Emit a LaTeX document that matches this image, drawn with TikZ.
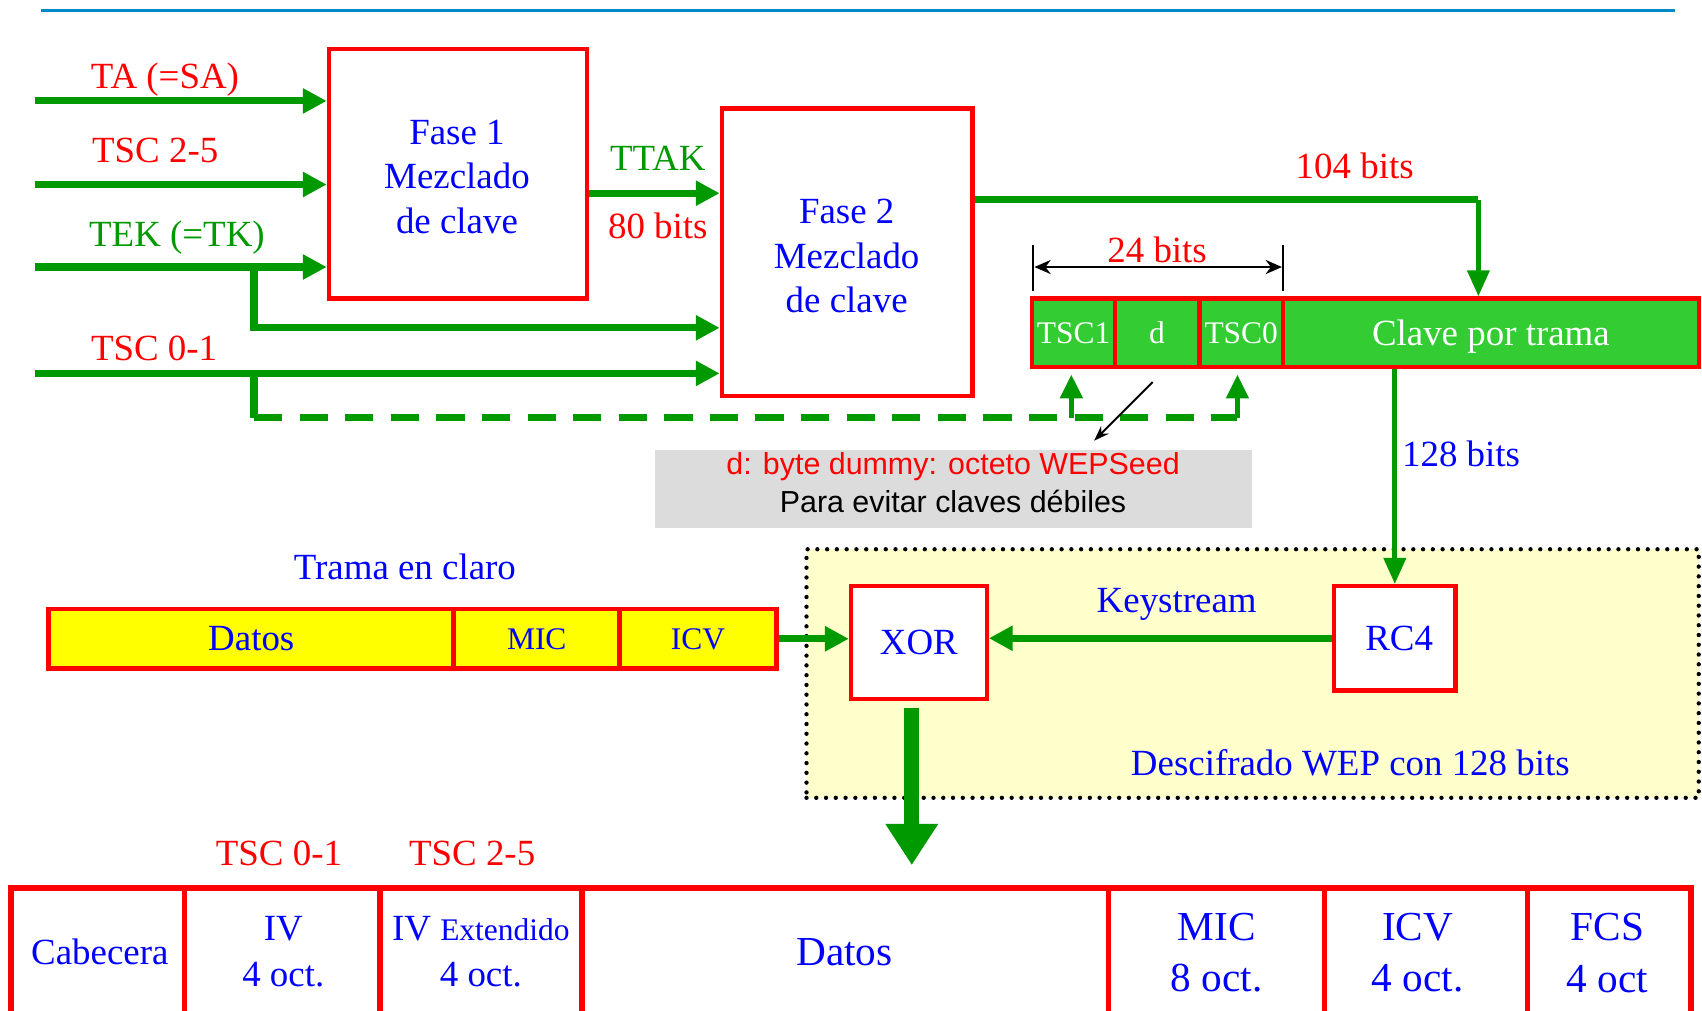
\documentclass[tikz,border=0pt]{standalone}
\usepackage{fontspec}
\setmainfont{Liberation Serif}
\newfontfamily\arialf{Liberation Sans}
\usetikzlibrary{arrows.meta}
\definecolor{gr}{HTML}{009900}
\definecolor{kfill}{HTML}{33CC33}
\definecolor{yfill}{HTML}{FFFF00}
\definecolor{zone}{HTML}{FFFFCC}
\definecolor{bl}{HTML}{0000FF}
\definecolor{rd}{HTML}{FF0000}
\definecolor{topline}{HTML}{0088C8}
\definecolor{notegray}{HTML}{DCDCDC}
\begin{document}
\begin{tikzpicture}[x=1pt,y=-1pt,
  fbig/.style={font=\fontsize{34}{41}\selectfont},
  fmid/.style={font=\fontsize{29}{35}\selectfont},
  fbot/.style={font=\fontsize{38}{47}\selectfont},
  redbox/.style={draw=rd, line width=4pt, fill=white, inner sep=0pt, text=bl, align=center, fbig},
  keyseg/.style={draw=rd, line width=4pt, fill=kfill, inner sep=0pt, text=white, minimum height=63pt, text depth=0pt},
  yseg/.style={draw=rd, line width=4.5pt, fill=yfill, inner sep=0pt, text=bl, minimum height=55pt, text depth=0pt},
  bseg/.style={draw=rd, line width=5pt, fill=white, inner sep=0pt, minimum height=140pt},
  btxt/.style={inner sep=0pt, text=bl, align=center},
  lbl/.style={inner sep=0pt, fbig},
  garrow/.style={draw=gr, line width=6.5pt, -{Triangle[length=22pt,width=22pt]}},
  gline/.style={draw=gr, line width=6.5pt},
  thinarrow/.style={draw=gr, line width=4.5pt, -{Triangle[length=24pt,width=20pt]}},
  blk/.style={draw=black, line width=1.8pt}
]
\useasboundingbox (0,0) rectangle (1568,931);
\clip (0,0) rectangle (1568,931);

% top rule
\coordinate (tl) at (38,10);
\coordinate (tr) at (1543,10);
\draw[topline, line width=3pt] (tl) -- (tr);

% decryption zone
\node[draw=black, fill=zone, line width=4pt, dash pattern=on 0pt off 9pt, line cap=round,
      minimum width=822pt, minimum height=229pt, inner sep=0pt] (zone) at (1154,620.5) {};
\node[lbl, text=bl] (ldesc) at (1244,703) {Descifrado WEP con 128 bits};

% boxes
\node[redbox, minimum width=238pt, minimum height=230pt] (f1) at (422,160) {};
\node[btxt, fbig] (f1t) at (421,163) {Fase 1\\Mezclado\\de clave};
\node[redbox, minimum width=231pt, minimum height=265pt] (f2) at (780.5,232.5) {};
\node[btxt, fbig] (f2t) at (780,236) {Fase 2\\Mezclado\\de clave};

\node[keyseg, minimum width=76pt, fmid] (tsc1) at (989,306.5) {TSC1};
\node[keyseg, minimum width=78pt, fmid] (dseg) at (1066,306.5) {d};
\node[keyseg, minimum width=77pt, fmid] (tsc0) at (1143.5,306.5) {TSC0};
\node[keyseg, minimum width=383pt, fbig] (clave) at (1373.5,306.5) {Clave por trama};

\node[redbox, minimum width=125pt, minimum height=104pt, text depth=0pt] (xor) at (846.5,592) {XOR};
\node[redbox, minimum width=112pt, minimum height=96pt, text depth=0pt] (rc4) at (1285,588) {};
\node[btxt, fbig, text depth=0pt] (rc4t) at (1289,588) {RC4};

\node[yseg, minimum width=373pt, fbig] (ydatos) at (231.5,588.5) {Datos};
\node[yseg, minimum width=153pt, fmid] (ymic) at (494.5,588.5) {MIC};
\node[yseg, minimum width=144pt, fmid] (yicv) at (643,588.5) {ICV};

\node[bseg, minimum width=160pt] (bcab) at (90,888) {};
\node[bseg, minimum width=180pt] (biv) at (260,888) {};
\node[bseg, minimum width=186pt] (bive) at (443,888) {};
\node[bseg, minimum width=485pt] (bdat) at (778.5,888) {};
\node[bseg, minimum width=199pt] (bmic) at (1120.5,888) {};
\node[bseg, minimum width=187pt] (bicv) at (1313.5,888) {};
\node[bseg, minimum width=151pt] (bfcs) at (1482.5,888) {};

\node[btxt, fbig] (xcab) at (92,877) {Cabecera};
\node[btxt, font=\fontsize{34}{42}\selectfont] (xiv) at (261,877) {IV\\4 oct.};
\node[btxt, font=\fontsize{34}{42}\selectfont] (xive) at (443,877) {IV {\fontsize{29}{35}\selectfont Extendido}\\4 oct.};
\node[btxt, fbot] (xdat) at (778,877) {Datos};
\node[btxt, fbot] (xmic) at (1121,878) {MIC\\8 oct.};
\node[btxt, fbot] (xicv) at (1306,878) {ICV\\4 oct.};
\node[btxt, fbot] (xfcs) at (1481,878) {FCS\\4 oct};

% note
\node[fill=notegray, minimum width=550pt, minimum height=71pt, inner sep=0pt] (note) at (878,450.5) {};
\node[inner sep=0pt, align=center, font=\arialf\fontsize{28}{35}\selectfont] (notet) at (878,445)
      {\textcolor{rd}{d: byte dummy: octeto WEPSeed}\\Para evitar claves débiles};

% labels
\node[lbl, text=rd] (lta) at (152,73) {TA (=SA)};
\node[lbl, text=rd] (ltsc25) at (143,139) {TSC 2-5};
\node[lbl, text=gr] (ltek) at (163,219) {TEK (=TK)};
\node[lbl, text=rd] (ltsc01) at (142,321) {TSC 0-1};
\node[lbl, text=gr] (lttak) at (606,146) {TTAK};
\node[lbl, text=rd] (l80) at (606,208) {80 bits};
\node[lbl, text=rd] (l104) at (1248,153) {104 bits};
\node[lbl, text=rd] (l24) at (1066,230) {24 bits};
\node[lbl, text=bl] (l128) at (1346,418) {128 bits};
\node[lbl, text=bl] (lkey) at (1084,557) {Keystream};
\node[lbl, text=bl] (ltrama) at (373,522) {Trama en claro};
\node[lbl, text=rd] (lb01) at (257,786) {TSC 0-1};
\node[lbl, text=rd] (lb25) at (435,786) {TSC 2-5};

% inputs
\coordinate (ita) at (32,93);
\coordinate (itsc25) at (32,170);
\coordinate (itek) at (32,246);
\coordinate (itsc01) at (32,344);
\coordinate (brtek) at (234,246);
\coordinate (brtsc) at (234,344);
\coordinate (dashc) at (234,385);
\coordinate (up1) at (987,385);
\coordinate (up0) at (1140,385);

\draw[garrow] (ita) -- (ita -| f1.west);
\draw[garrow] (itsc25) -- (itsc25 -| f1.west);
\draw[garrow] (itek) -- (itek -| f1.west);
\draw[garrow] (brtek) |- (f2.west |- 0,302);
\draw[garrow] (itsc01) -- (itsc01 -| f2.west);
\draw[gline] (brtsc) -- (dashc);
\draw[gline, dash pattern=on 26pt off 16pt] (dashc) -- (up0);
\draw[gline, -{Triangle[length=22pt,width=20pt]}, line width=5pt] (up1) -- (up1 |- 0,345);
\draw[gline, -{Triangle[length=22pt,width=20pt]}, line width=5pt] (up0) -- (up0 |- 0,345);

% TTAK
\draw[garrow] (f1.east |- 0,178) -- (f2.west |- 0,178);

% 104 bits
\coordinate (c104) at (1362,184);
\draw[gline] (f2.east |- c104) -- (c104);
\draw[thinarrow] (c104) -- (c104 |- clave.north);

% 24 bits dimension
\coordinate (d1a) at (952,226);
\coordinate (d1b) at (952,268);
\coordinate (d2a) at (1182,226);
\coordinate (d2b) at (1182,268);
\draw[blk] (d1a) -- (d1b);
\draw[blk] (d2a) -- (d2b);
\draw[blk, line width=2pt, {Stealth[length=15pt,width=13pt]}-{Stealth[length=15pt,width=13pt]}] (953,246) -- (1181,246);

% pointer to note
\coordinate (pa) at (1062,352);
\coordinate (pb) at (1008,406);
\draw[blk, -{Stealth[length=14pt,width=10pt]}] (pa) -- (pb);

% 128 bits
\draw[thinarrow] (rc4.north |- clave.south) -- (rc4.north);

% keystream
\draw[garrow] (rc4.west) -- (rc4.west -| xor.east);
% trama to xor
\draw[garrow] (yicv.east) -- (yicv.east -| xor.west);

% xor out
\coordinate (xo) at (840,652);
\coordinate (xoe) at (840,797);
\draw[draw=gr, line width=14pt, -{Triangle[length=38pt,width=46pt]}] (xo) -- (xoe);
\end{tikzpicture}
\end{document}
